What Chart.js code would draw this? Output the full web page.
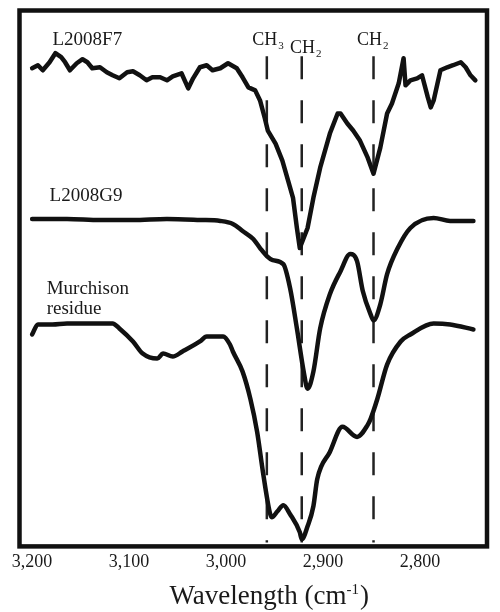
<!DOCTYPE html>
<html>
<head>
<meta charset="utf-8">
<script src="https://cdn.jsdelivr.net/npm/chart.js@4.4.1/dist/chart.umd.min.js"></script>
<style>
  html, body { margin: 0; padding: 0; background: #fff; }
  #wrap { width: 500px; height: 612px; }
</style>
</head>
<body>
<div id="wrap"><canvas id="ir"></canvas></div>
<script>
// IR spectra, wavenumber (cm-1) vs offset intensity (arbitrary units)
const wnF7 = [3200,3194,3189,3182,3176,3170,3166,3161,3154,3148,3143,3138,3130,3123,3117,3110,3102,3096,3089,3082,3076,3068,3061,3055,3046,3039,3034,3027,3020,3014,3006,2998,2989,2983,2977,2970,2965,2960,2957,2949,2942,2936,2931,2927,2924,2916,2910,2903,2893,2885,2882,2875,2869,2862,2854,2848,2841,2834,2829,2822,2817,2815,2810,2803,2798,2792,2789,2786,2779,2772,2766,2758,2753,2748,2743];
const intF7 = [476,479,474,482,491,487,482,474,481,485,482,476,477,472,469,466,472,473,469,464,467,467,464,468,471,456,466,477,479,474,476,481,476,467,457,454,444,426,414,401,384,364,347,317,297,317,347,377,411,431,431,421,414,404,387,371,397,431,441,461,486,459,464,466,469,447,437,444,474,477,479,482,477,469,464];

const wnG9 = [3200,3164,3130,3096,3061,3027,3006,2993,2983,2972,2965,2958,2952,2941,2934,2927,2920,2916,2910,2903,2893,2882,2872,2865,2859,2851,2848,2841,2834,2823,2810,2786,2769,2745];
const intG9 = [326,326,325,325,326,325,324,321,314,306,297,289,285,281,257,217,174,157,174,217,251,274,291,284,254,231,225,241,271,297,317,327,324,324];

const wnMur = [3200,3194,3179,3164,3144,3117,3110,3096,3086,3071,3065,3055,3045,3027,3020,3003,2996,2993,2983,2975,2968,2962,2955,2953,2947,2941,2934,2924,2922,2916,2910,2906,2893,2880,2865,2854,2851,2844,2834,2820,2810,2786,2769,2745];
const intMur = [211,221,221,222,222,222,217,204,192,187,192,189,194,204,209,209,201,194,174,147,114,74,34,29,35,41,32,14,7,20,40,67,94,119,109,121,127,147,181,204,211,222,221,216];

// band assignments (dashed markers)
const bandWn = [2958, 2922, 2848];
const bandName = ['CH', 'CH', 'CH'];
const bandSub = ['3', '2', '2'];

const sampleNames = ['L2008F7', 'L2008G9', 'Murchison', 'residue'];

const xTicks = [3200, 3100, 3000, 2900, 2800];
const xTitle = ['Wavelength (cm', '-1', ')'];

const zip = (xs, ys) => xs.map((v, i) => ({ x: v, y: ys[i] }));
const serif = '"Liberation Serif", "Times New Roman", serif';

const spectrum = (label, xs, ys, smooth) => ({
  label: label,
  data: zip(xs, ys),
  borderColor: '#111',
  borderWidth: 4.5,
  pointRadius: 0,
  cubicInterpolationMode: smooth ? 'monotone' : 'default',
  tension: 0,
  borderJoinStyle: 'round',
  borderCapStyle: 'round',
  order: 1
});

const marker = (wn) => ({
  label: 'band ' + wn,
  data: [{ x: wn, y: 488 }, { x: wn, y: 4 }],
  borderColor: '#222',
  borderWidth: 2.5,
  borderDash: [23, 21],
  pointRadius: 0,
  order: 2
});

// frame, axis title and text annotations
const annotate = {
  id: 'annotate',
  afterDatasetsDraw(chart) {
    const { ctx, chartArea: a, scales: { x, y } } = chart;
    ctx.save();
    ctx.lineWidth = 4.5;
    ctx.strokeStyle = '#111';
    ctx.strokeRect(a.left, a.top, a.right - a.left, a.bottom - a.top);

    ctx.fillStyle = '#1a1a1a';
    ctx.textBaseline = 'alphabetic';
    ctx.textAlign = 'left';
    ctx.font = '19px ' + serif;
    const spots = [[3179, 499], [3182, 344], [3185, 251], [3185, 231]];
    sampleNames.forEach((t, i) => {
      ctx.fillText(t, x.getPixelForValue(spots[i][0]), y.getPixelForValue(spots[i][1]));
    });

    const bandSpots = [[2973, 499], [2934, 491], [2865, 499]];
    bandName.forEach((t, i) => {
      const px = x.getPixelForValue(bandSpots[i][0]);
      const py = y.getPixelForValue(bandSpots[i][1]);
      ctx.font = '18px ' + serif;
      ctx.fillText(t, px, py);
      const w = ctx.measureText(t).width;
      ctx.font = '11px ' + serif;
      ctx.fillText(bandSub[i], px + w + 1, py + 4);
    });

    // axis title with superscript
    const big = '27px ' + serif, small = '15px ' + serif;
    ctx.font = big;
    const w0 = ctx.measureText(xTitle[0]).width;
    const w2 = ctx.measureText(xTitle[2]).width;
    ctx.font = small;
    const w1 = ctx.measureText(xTitle[1]).width;
    const cx = (a.left + a.right) / 2 + 16;
    let tx = cx - (w0 + w1 + w2 + 1) / 2;
    const ty = a.bottom + 58;
    ctx.font = big;
    ctx.fillText(xTitle[0], tx, ty);
    tx += w0;
    ctx.font = small;
    ctx.fillText(xTitle[1], tx, ty - 10);
    tx += w1 + 1;
    ctx.font = big;
    ctx.fillText(xTitle[2], tx, ty);
    ctx.restore();
  }
};

new Chart(document.getElementById('ir'), {
  type: 'line',
  data: {
    datasets: [
      spectrum('L2008F7', wnF7, intF7, false),
      spectrum('L2008G9', wnG9, intG9, true),
      spectrum('Murchison residue', wnMur, intMur, true),
      ...bandWn.map(marker)
    ]
  },
  options: {
    responsive: true,
    maintainAspectRatio: false,
    animation: false,
    layout: { padding: { left: 19.5, right: 13, top: 10.5, bottom: 34 } },
    plugins: { legend: { display: false }, tooltip: { enabled: false } },
    scales: {
      x: {
        type: 'linear',
        reverse: true,
        min: 2731,
        max: 3213,
        afterBuildTicks: (s) => { s.ticks = xTicks.map(v => ({ value: v })); },
        grid: { display: false, drawTicks: false },
        border: { display: false },
        ticks: {
          padding: 5,
          maxRotation: 0,
          autoSkip: false,
          color: '#1a1a1a',
          font: { family: serif, size: 18 }
        }
      },
      y: {
        display: false,
        min: 0,
        max: 533.5
      }
    }
  },
  plugins: [annotate]
});
</script>
</body>
</html>
